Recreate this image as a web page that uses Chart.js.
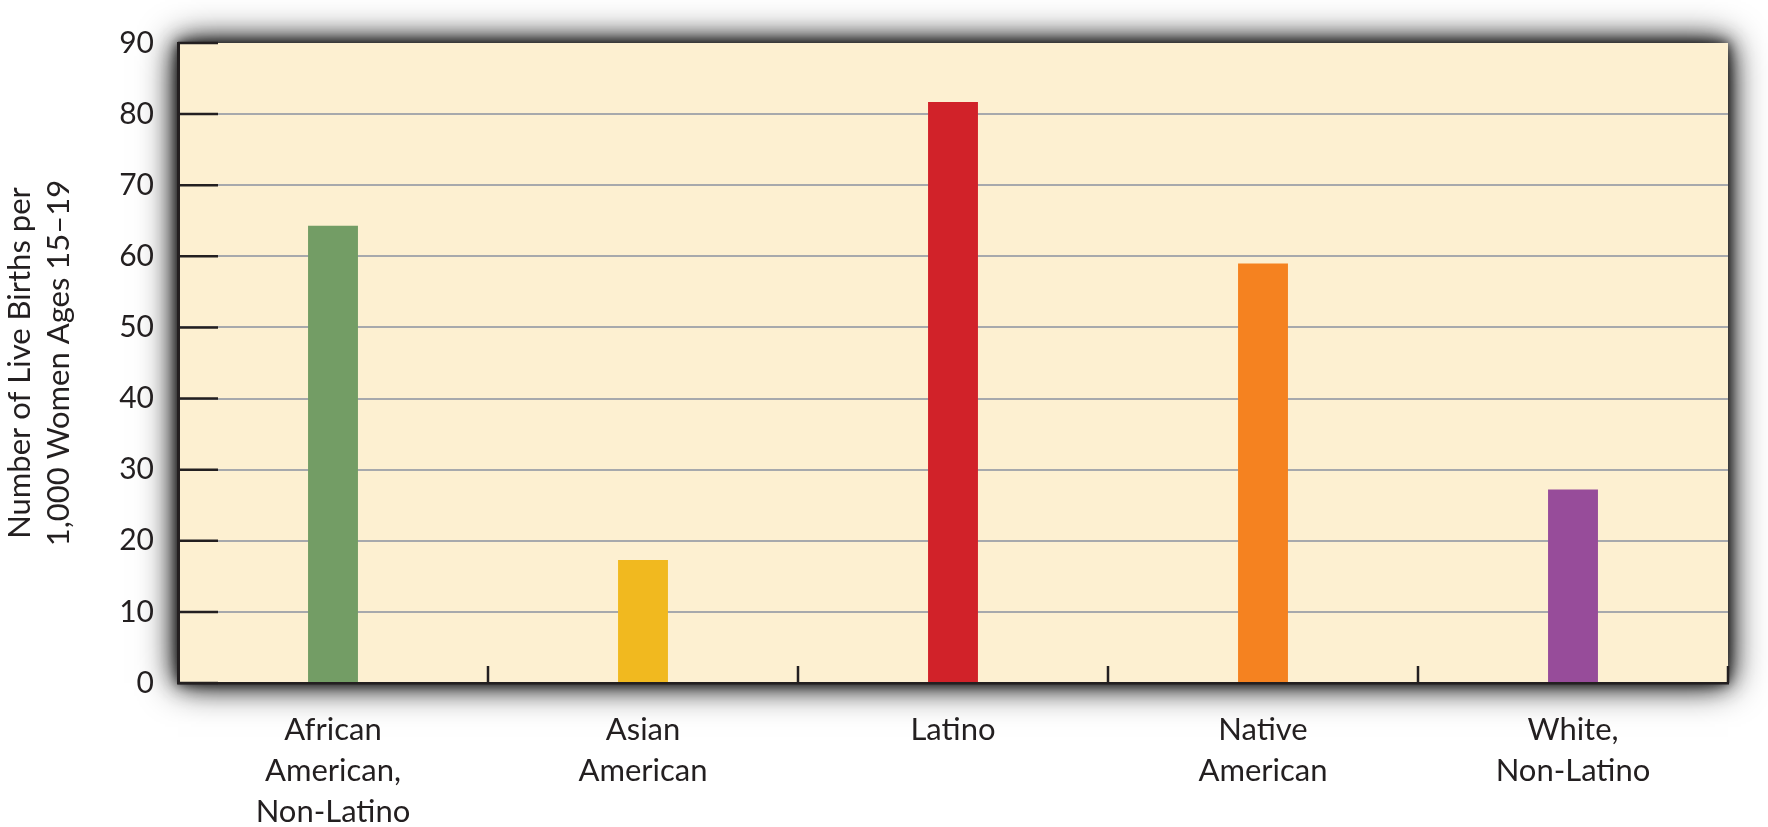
<!DOCTYPE html>
<html>
<head>
<meta charset="utf-8">
<title>Teen birth rates</title>
<script src="https://cdn.jsdelivr.net/npm/chart.js@4/dist/chart.umd.min.js"></script>
<style>
  html, body { margin: 0; padding: 0; background: #ffffff; }
  canvas { display: block; }
</style>
</head>
<body>
<canvas id="birthsChart" width="1768" height="827"></canvas>
<script>
// data
const categories = [
  ["African", "American,", "Non-Latino"],
  ["Asian", "American"],
  ["Latino"],
  ["Native", "American"],
  ["White,", "Non-Latino"]
];
const birthRates = [64.3, 17.3, 81.7, 59.0, 27.2];
const yTickValues = [0, 10, 20, 30, 40, 50, 60, 70, 80, 90];
const yTitle = ["Number of Live Births per", "1,000 Women Ages 15\u201319"];

const barColors = ["#739d65", "#f1b91f", "#d12229", "#f58220", "#974c9a"];
const textColor = "#231f20";
const plotBg = "#fdf0d1";
const fontFamily = "Lato, 'Open Sans', sans-serif";

// cream plot area with a dark soft drop shadow all round
const plotShadow = {
  id: "plotShadow",
  beforeDraw(chart) {
    const { ctx, chartArea: a } = chart;
    const w = a.right - a.left;
    const h = a.bottom - a.top;
    ctx.save();
    ctx.fillStyle = plotBg;
    [[36, 0.95], [22, 0.85], [10, 0.6]].forEach(([blur, alpha]) => {
      ctx.shadowColor = "rgba(0, 0, 0, " + alpha + ")";
      ctx.shadowBlur = blur;
      ctx.fillRect(a.left, a.top, w, h);
    });
    ctx.restore();
  }
};

// short black ticks drawn inside the plot area
const innerTicks = {
  id: "innerTicks",
  afterDatasetsDraw(chart) {
    const { ctx, chartArea: a, scales } = chart;
    ctx.save();
    ctx.strokeStyle = textColor;
    ctx.lineWidth = 2.5;
    ctx.beginPath();
    yTickValues.forEach(v => {
      const y = scales.y.getPixelForValue(v);
      ctx.moveTo(a.left, y);
      ctx.lineTo(a.left + 40, y);
    });
    for (let i = 1; i <= categories.length; i++) {
      const x = (scales.x.getPixelForValue(i - 1) + scales.x.getPixelForValue(i)) / 2;
      ctx.moveTo(x, a.bottom);
      ctx.lineTo(x, a.bottom - 17);
    }
    ctx.stroke();
    ctx.restore();
  }
};

new Chart(document.getElementById("birthsChart"), {
  type: "bar",

  data: {
    labels: categories,

    datasets: [{
      data: birthRates,
      backgroundColor: barColors,
      borderWidth: 0,
      barPercentage: 0.161,
      categoryPercentage: 1
    }]
  },

  options: {
    responsive: false,
    animation: false,

    layout: {
      padding: { top: 43, right: 40, bottom: 0, left: 0 }
    },

    plugins: {
      legend: { display: false },
      tooltip: { enabled: false }
    },

    scales: {
      x: {
        grid: { display: false },
        border: { display: true, color: textColor, width: 2.5 },
        ticks: {
          color: textColor,
          padding: 19,
          maxRotation: 0,
          autoSkip: false,
          font: { family: fontFamily, size: 31, lineHeight: 1.31 }
        },
        afterFit(scale) {
          scale.height = 144;
        }
      },

      y: {
        min: 0,
        max: 90,
        afterBuildTicks(scale) {
          scale.ticks = yTickValues.map(v => ({ value: v }));
        },
        grid: {
          drawTicks: false,
          lineWidth: 2,
          color: ctx => (ctx.tick && (ctx.tick.value === 0 || ctx.tick.value === 90)) ? "rgba(0,0,0,0)" : "#a7a9ac"
        },
        border: { display: true, color: textColor, width: 3 },
        ticks: {
          color: textColor,
          padding: 24,
          font: { family: fontFamily, size: 30 }
        },
        title: {
          display: true,
          text: yTitle,
          color: textColor,
          padding: { top: 0, bottom: 0 },
          font: { family: fontFamily, size: 31, lineHeight: 1.27 }
        },
        afterFit(scale) {
          scale.width = 178;
        }
      }
    }
  },

  plugins: [plotShadow, innerTicks]
});
</script>
</body>
</html>
